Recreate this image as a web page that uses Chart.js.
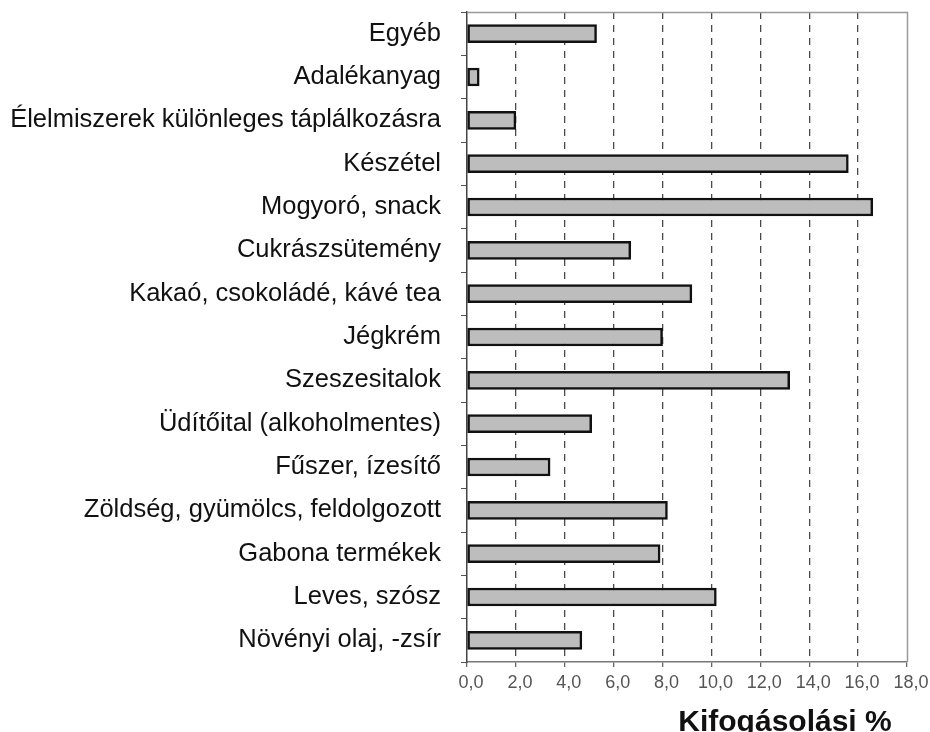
<!DOCTYPE html>
<html>
<head>
<meta charset="utf-8">
<script src="https://cdn.jsdelivr.net/npm/chart.js@4/dist/chart.umd.min.js"></script>
<style>
  html, body { margin: 0; padding: 0; background: #fff; }
  canvas { display: block; }
</style>
</head>
<body>
<canvas id="kifogas" width="930" height="732"></canvas>
<script>
// kategóriák (felülről lefelé)
var categories = [
  'Egyéb',
  'Adalékanyag',
  'Élelmiszerek különleges táplálkozásra',
  'Készétel',
  'Mogyoró, snack',
  'Cukrászsütemény',
  'Kakaó, csokoládé, kávé tea',
  'Jégkrém',
  'Szeszesitalok',
  'Üdítőital (alkoholmentes)',
  'Fűszer, ízesítő',
  'Zöldség, gyümölcs, feldolgozott',
  'Gabona termékek',
  'Leves, szósz',
  'Növényi olaj, -zsír'
];

// kifogásolási arány, %
var values = [5.3, 0.5, 2.0, 15.6, 16.6, 6.7, 9.2, 8.0, 13.2, 5.1, 3.4, 8.2, 7.9, 10.2, 4.7];

// x tengely feliratai
var xTicks = [0, 2, 4, 6, 8, 10, 12, 14, 16, 18];
var xTickLabels = ['0,0', '2,0', '4,0', '6,0', '8,0', '10,0', '12,0', '14,0', '16,0', '18,0'];
var xTitle = 'Kifogásolási %';

// keret fent és jobbra + tengelycím
var frame = {
  id: 'frame',
  afterDraw: function (chart) {
    var ctx = chart.ctx, a = chart.chartArea;
    ctx.save();
    ctx.strokeStyle = '#9a9a9a';
    ctx.lineWidth = 1.5;
    ctx.beginPath();
    ctx.moveTo(a.left, a.top + 0.5);
    ctx.lineTo(a.right + 0.5, a.top + 0.5);
    ctx.lineTo(a.right + 0.5, a.bottom);
    ctx.stroke();
    ctx.fillStyle = '#111';
    ctx.font = 'bold 30px "Liberation Sans", Arial, sans-serif';
    ctx.textAlign = 'center';
    ctx.textBaseline = 'alphabetic';
    ctx.fillText(xTitle, 785, 731);
    ctx.restore();
  }
};

var chart = new Chart(document.getElementById('kifogas'), {
  type: 'bar',
  data: {
    labels: categories,
    datasets: [{
      data: values,
      backgroundColor: '#bdbdbd',
      borderColor: '#111',
      borderWidth: 2.5,
      borderSkipped: false,
      barThickness: 18
    }]
  },
  options: {
    indexAxis: 'y',
    responsive: false,
    animation: false,
    layout: { padding: { top: 12, right: 23, left: 0, bottom: 0 } },
    plugins: {
      legend: { display: false },
      tooltip: { enabled: false }
    },
    scales: {
      x: {
        min: 0,
        max: 18,
        afterFit: function (s) {
          s.height = 70;
          s.paddingLeft = 0;
          s.paddingRight = 0;
        },
        afterBuildTicks: function (s) {
          s.ticks = xTicks.map(function (v) { return { value: v }; });
        },
        ticks: {
          color: '#555',
          font: { family: '"Liberation Sans", Arial, sans-serif', size: 18 },
          padding: 5,
          labelOffset: 4,
          maxRotation: 0,
          callback: function (v) { return xTickLabels[xTicks.indexOf(v)]; }
        },
        grid: {
          color: function (c) {
            var v = c.tick && c.tick.value;
            return (v === 0 || v === 18) ? 'rgba(0,0,0,0)' : '#4a4a4a';
          },
          lineWidth: 1.3,
          tickBorderDash: [],
          tickColor: '#666',
          tickLength: 5
        },
        border: { display: true, color: '#777', width: 1.5, dash: [7, 6] }
      },
      y: {
        afterFit: function (s) {
          s.width = 467;
          s.paddingTop = 0;
          s.paddingBottom = 0;
        },
        ticks: {
          color: '#111',
          font: { family: '"Liberation Sans", Arial, sans-serif', size: 25.5 },
          padding: 20,
          autoSkip: false
        },
        grid: {
          display: true,
          drawOnChartArea: false,
          offset: true,
          color: '#555',
          tickLength: 6
        },
        border: { display: true, color: '#444', width: 1.5 }
      }
    }
  },
  plugins: [frame]
});
</script>
</body>
</html>
